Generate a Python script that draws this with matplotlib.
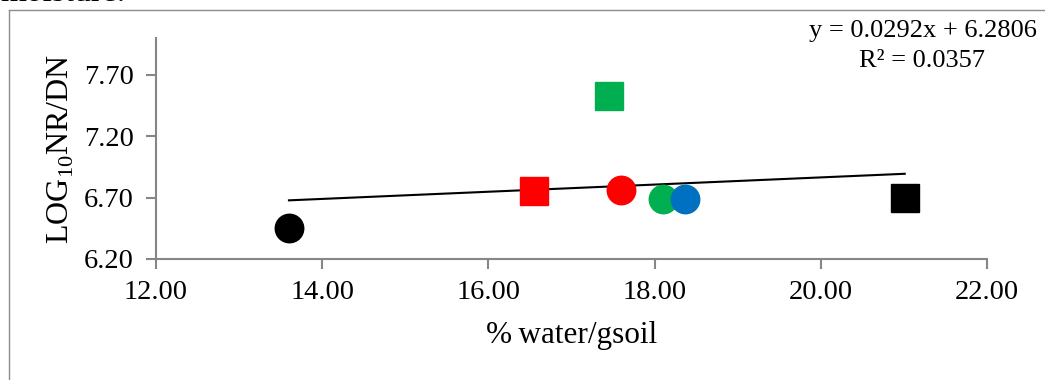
import matplotlib
matplotlib.use("Agg")
import matplotlib.pyplot as plt
from matplotlib.lines import Line2D
import numpy as np

plt.rcParams['font.family'] = ['Liberation Serif', 'DejaVu Serif']
plt.rcParams['mathtext.fontset'] = 'custom'
plt.rcParams['mathtext.rm'] = 'Liberation Serif'

# soil moisture vs log10 nitrate reductase / denitrifier counts
water_pct = [13.60, 16.55, 17.45, 17.60, 18.10, 18.36, 21.01]
log_nr_dn = [6.45, 6.75, 7.53, 6.76, 6.685, 6.685, 6.70]
markers = ['o', 's', 's', 'o', 'o', 'o', 's']
colors = ['#000000', '#FF0000', '#00B050', '#FF0000', '#00B050', '#0070C0', '#000000']

# linear trendline reported with the chart
slope = 0.0292
intercept = 6.2806
r_squared = 0.0357

x_ticks = [12.0, 14.0, 16.0, 18.0, 20.0, 22.0]
y_ticks = [6.20, 6.70, 7.20, 7.70]

W, H = 1045, 380
fig = plt.figure(figsize=(W / 100, H / 100), dpi=100)
ax = fig.add_axes([156 / W, 1 - 259 / H, (987 - 156) / W, (259 - 38) / H])

# surrounding frame of the chart object
frame_col = '#8c8c8c'
fig.add_artist(Line2D([9 / W, 9 / W], [1 - 10 / H, 0], transform=fig.transFigure,
                      color=frame_col, lw=1.0))
fig.add_artist(Line2D([9 / W, 1], [1 - 10 / H, 1 - 10 / H], transform=fig.transFigure,
                      color=frame_col, lw=1.0))

# tail of the paragraph text above the chart
fig.text(0.0, 1 - 1 / H, 'moisture.', fontsize=24, va='baseline', ha='left')

x_fit = np.array([min(water_pct), max(water_pct)])
ax.plot(x_fit, slope * x_fit + intercept, color='black', lw=1.5, zorder=2)

for x, y, m, c in zip(water_pct, log_nr_dn, markers, colors):
    ax.plot([x], [y], marker=m, ms=20.5, color=c, mec=c, ls='none', zorder=3)

ax.set_xlim(12.0, 22.0)
ax.set_ylim(6.20, 8.0)
ax.set_xticks(x_ticks)
ax.set_yticks(y_ticks)
ax.set_xticklabels([f'{v:.2f}' for v in x_ticks])
ax.set_yticklabels([f'{v:.2f}' for v in y_ticks])

spine_col = '#868686'
for s in ['top', 'right']:
    ax.spines[s].set_visible(False)
for s in ['left', 'bottom']:
    ax.spines[s].set_color(spine_col)
    ax.spines[s].set_linewidth(1.5)
ax.tick_params(axis='both', direction='out', length=7, width=1.5, color=spine_col,
               labelsize=20.5, labelcolor='black')
ax.tick_params(axis='y', pad=9)
ax.tick_params(axis='x', pad=8)

ax.set_xlabel('%\u2009water/gsoil', fontsize=22.5, labelpad=12)
ax.set_ylabel(r'LOG$_{10}$NR/DN', fontsize=23, labelpad=6)

fig.text(1037 / W, 1 - 37 / H, f'y = {slope:.4f}x + {intercept:.4f}',
         fontsize=19, ha='right', va='baseline')
fig.text(922 / W, 1 - 67 / H, f'R\u00b2 = {r_squared:.4f}',
         fontsize=19, ha='center', va='baseline')

fig.savefig('out.png', dpi=100)
